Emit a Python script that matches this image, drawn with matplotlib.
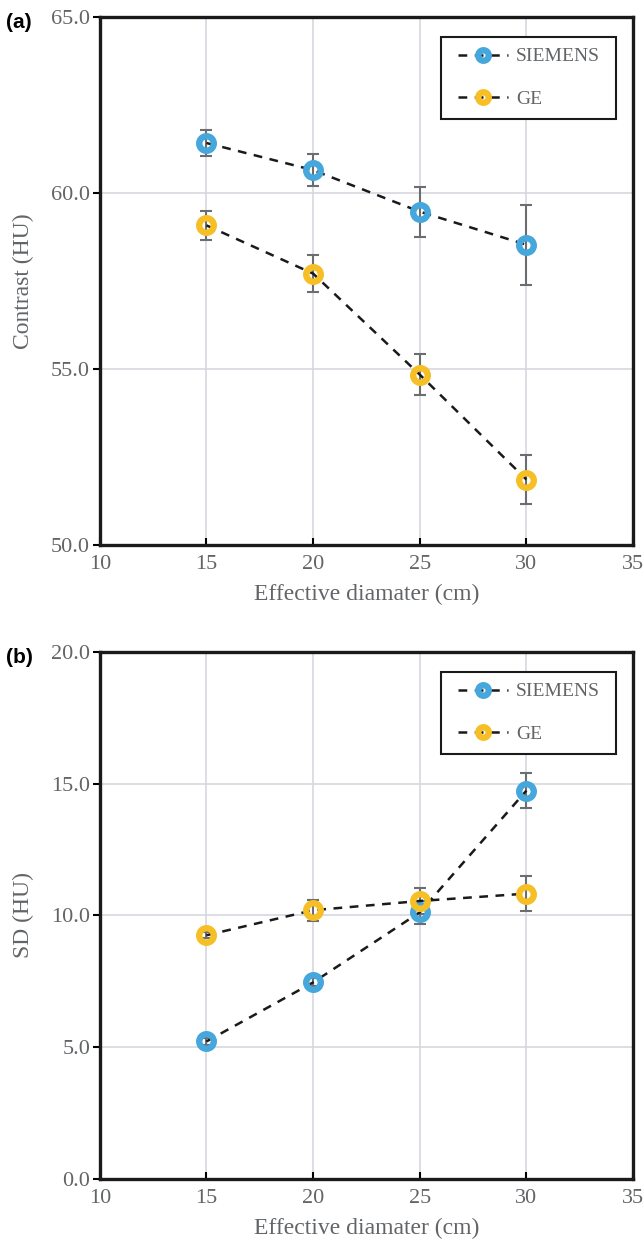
import matplotlib.pyplot as plt
from matplotlib.patches import Rectangle
from matplotlib.ticker import FormatStrFormatter

# diameters (cm)
diameters = [15, 20, 25, 30]

# (a) contrast in HU
contrast_siemens = [61.42, 60.65, 59.47, 58.53]
contrast_siemens_err = [0.38, 0.45, 0.71, 1.14]
contrast_ge = [59.08, 57.71, 54.84, 51.86]
contrast_ge_err = [0.41, 0.53, 0.58, 0.70]

# (b) noise SD in HU
sd_siemens = [5.22, 7.46, 10.12, 14.74]
sd_siemens_err = [0.12, 0.15, 0.43, 0.65]
sd_ge = [9.25, 10.20, 10.55, 10.83]
sd_ge_err = [0.12, 0.40, 0.50, 0.65]

colors = {"SIEMENS": "#45a7dc", "GE": "#f6bf26"}

grey_text = "#626568"
plt.rcParams['font.family'] = ['Liberation Serif', 'DejaVu Serif']

fig = plt.figure(figsize=(6.44, 12.4), dpi=100)
ax_a = fig.add_axes([0.155, 0.5605, 0.828, 0.4258])
ax_b = fig.add_axes([0.155, 0.0492, 0.828, 0.4250])


def draw_panel(ax, series, ylim, ylabel, tag):
    for name, vals, errs in series:
        ax.errorbar(diameters, vals, yerr=errs, fmt='none', ecolor='#6b6e70',
                    elinewidth=1.5, capsize=4, capthick=1.5, zorder=3)
        ax.plot(diameters, vals, linestyle=(0, (3.5, 3)), color='#1a1a1a', lw=1.8,
                marker='o', markersize=10.5, markeredgewidth=4.6,
                markerfacecolor='none', markeredgecolor=colors[name],
                label=name, zorder=4)
    ax.set_xlim(10, 35)
    ax.set_ylim(*ylim)
    ax.set_xticks([10, 15, 20, 25, 30, 35])
    ax.yaxis.set_major_formatter(FormatStrFormatter('%.1f'))
    ax.grid(True, color='#d6d8de', lw=1.2, zorder=0)
    ax.set_axisbelow(True)
    for s in ax.spines.values():
        s.set_linewidth(2.4)
        s.set_color('#1a1a1a')
    ax.tick_params(axis='x', direction='in', length=5, width=1.5,
                   labelsize=16, labelcolor=grey_text, pad=7)
    ax.tick_params(axis='y', direction='out', length=5, width=1.5,
                   labelsize=16, labelcolor=grey_text, pad=2)
    ax.set_xlabel("Effective diamater (cm)", fontsize=17, color=grey_text)
    ax.xaxis.set_label_coords(0.5, -0.074)
    ax.set_ylabel(ylabel, fontsize=17, color=grey_text)
    ax.yaxis.set_label_coords(-0.124, 0.5)

    # legend without its own frame; a wider box is drawn behind it
    leg = ax.legend(loc='upper right', bbox_to_anchor=(0.958, 0.962), borderaxespad=0,
                    fontsize=14, frameon=False, borderpad=0.55, labelspacing=1.3,
                    handlelength=2.6, handletextpad=0.4, markerscale=0.72)
    leg.set_zorder(6)
    for t in leg.get_texts():
        t.set_color(grey_text)
    fig.canvas.draw()
    bb = leg.get_window_extent().transformed(ax.transAxes.inverted())
    dx = 0.0105
    ax.add_patch(Rectangle((bb.x0 - dx, bb.y0), bb.width + 2 * dx, bb.height,
                           transform=ax.transAxes, facecolor='white',
                           edgecolor='#1a1a1a', lw=1.5, zorder=5))

    ax.text(-0.176, 0.99, tag, transform=ax.transAxes, fontsize=15,
            fontweight='bold', family='Liberation Sans', ha='left', va='center')


draw_panel(ax_a, [("SIEMENS", contrast_siemens, contrast_siemens_err),
                  ("GE", contrast_ge, contrast_ge_err)],
           (50, 65), "Contrast (HU)", "(a)")
ax_a.set_yticks([50, 55, 60, 65])

draw_panel(ax_b, [("SIEMENS", sd_siemens, sd_siemens_err),
                  ("GE", sd_ge, sd_ge_err)],
           (0, 20), "SD (HU)", "(b)")
ax_b.set_yticks([0, 5, 10, 15, 20])

fig.savefig("out.png", dpi=100)
